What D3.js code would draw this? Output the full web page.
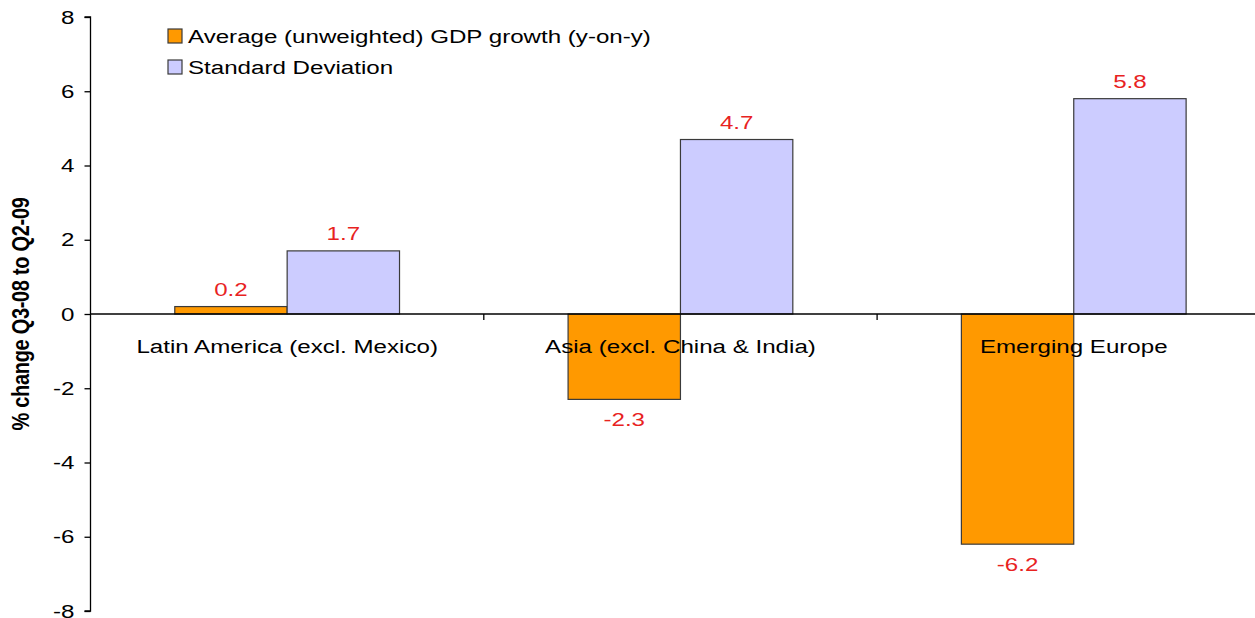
<!DOCTYPE html>
<html>
<head>
<meta charset="utf-8">
<script src="https://cdn.jsdelivr.net/npm/d3@7"></script>
<style>
  html, body { margin: 0; padding: 0; background: #fff; }
  svg { display: block; }
  text { font-family: "Liberation Sans", Arial, sans-serif; }
</style>
</head>
<body>
<svg id="chart" width="1255" height="618"></svg>
<script>
// Regional GDP growth vs. dispersion, Q3-08 to Q2-09
const categories = ["Latin America (excl. Mexico)", "Asia (excl. China & India)", "Emerging Europe"];
const seriesNames = ["Average (unweighted) GDP growth (y-on-y)", "Standard Deviation"];
const avgGrowth = [0.2, -2.3, -6.2];
const stdDev = [1.7, 4.7, 5.8];
const yTicks = [-8, -6, -4, -2, 0, 2, 4, 6, 8];
const yTitle = "% change Q3-08 to Q2-09";

const colors = ["#FF9900", "#CCCCFF"];
const series = [avgGrowth, stdDev];
const SX = 1.27; // wide type

const svg = d3.select("#chart");
const x0 = 90.5, catW = 393.3;
const xCat = d3.scaleBand().domain(categories).range([x0, x0 + catW * categories.length]).paddingInner(0).paddingOuter(0);
const xSub = d3.scaleBand().domain([0, 1]).range([0, catW]).paddingInner(0).paddingOuter(0.75);
const y = d3.scaleLinear().domain([-8, 8]).range([611, 17]);

function wide(sel, fx, fy) {
  sel.attr("transform", (d, i) => `translate(${fx(d, i)},${fy(d, i)}) scale(${SX},1)`);
}

// bars
const g = svg.append("g");
series.forEach((vals, si) => {
  g.selectAll(".bar" + si)
    .data(vals)
    .enter().append("rect")
    .attr("x", (d, i) => xCat(categories[i]) + xSub(si))
    .attr("width", xSub.bandwidth())
    .attr("y", d => y(Math.max(0, d)))
    .attr("height", d => Math.abs(y(d) - y(0)))
    .attr("fill", colors[si])
    .attr("stroke", "#3a3a3a")
    .attr("stroke-width", 1.2);
});

// value labels
series.forEach((vals, si) => {
  g.selectAll(".lbl" + si)
    .data(vals)
    .enter().append("text")
    .call(wide, (d, i) => xCat(categories[i]) + xSub(si) + xSub.bandwidth() / 2,
                d => d >= 0 ? y(d) - 11 : y(d) + 27)
    .attr("text-anchor", "middle")
    .attr("font-size", 19)
    .attr("fill", "#E8231F")
    .text(d => d.toFixed(1));
});

// y axis
const yAxis = d3.axisLeft(y).tickValues(yTicks).tickSize(6).tickPadding(10).tickFormat(d => String(d));
const ya = svg.append("g").attr("transform", `translate(${x0},0)`).call(yAxis);
ya.select(".domain").attr("stroke", "#000").attr("stroke-width", 1.3).attr("d", `M-6,${y(8)}H0V${y(-8)}H-6`);
ya.selectAll(".tick line").attr("stroke", "#000").attr("stroke-width", 1.3);
ya.selectAll(".tick text").attr("font-size", 19).attr("fill", "#000")
  .attr("font-family", "'Liberation Sans', Arial, sans-serif")
  .attr("transform", `translate(-16,0) scale(${SX},1)`).attr("x", 0);

// x axis at zero
const xa = svg.append("g").attr("transform", `translate(0,${y(0)})`);
xa.append("line").attr("x1", x0).attr("x2", 1255).attr("y1", 0).attr("y2", 0)
  .attr("stroke", "#000").attr("stroke-width", 1.3);
xa.selectAll(".ctick").data(categories).enter().append("line")
  .attr("x1", d => xCat(d) + xCat.bandwidth()).attr("x2", d => xCat(d) + xCat.bandwidth())
  .attr("y1", 0).attr("y2", 6).attr("stroke", "#000").attr("stroke-width", 1.3);
xa.selectAll(".clbl").data(categories).enter().append("text")
  .call(wide, d => xCat(d) + xCat.bandwidth() / 2, () => 39)
  .attr("text-anchor", "middle")
  .attr("font-size", 19)
  .attr("fill", "#000")
  .text(d => d);

// y title
svg.append("text")
  .attr("transform", `translate(29,${y(0)}) rotate(-90) scale(1,1.2)`)
  .attr("text-anchor", "middle")
  .attr("font-size", 20)
  .attr("font-weight", "bold")
  .attr("letter-spacing", -0.3)
  .attr("fill", "#000")
  .text(yTitle);

// legend
const lg = svg.append("g").attr("transform", "translate(168,29)");
seriesNames.forEach((name, i) => {
  const row = lg.append("g").attr("transform", `translate(0,${i * 31})`);
  row.append("rect").attr("x", 0).attr("y", 0).attr("width", 14).attr("height", 14)
    .attr("fill", colors[i]).attr("stroke", "#3a3a3a").attr("stroke-width", 1.2);
  row.append("text").attr("transform", `translate(20,14) scale(${SX},1)`)
    .attr("font-size", 19).attr("fill", "#000").text(name);
});
</script>
</body>
</html>
